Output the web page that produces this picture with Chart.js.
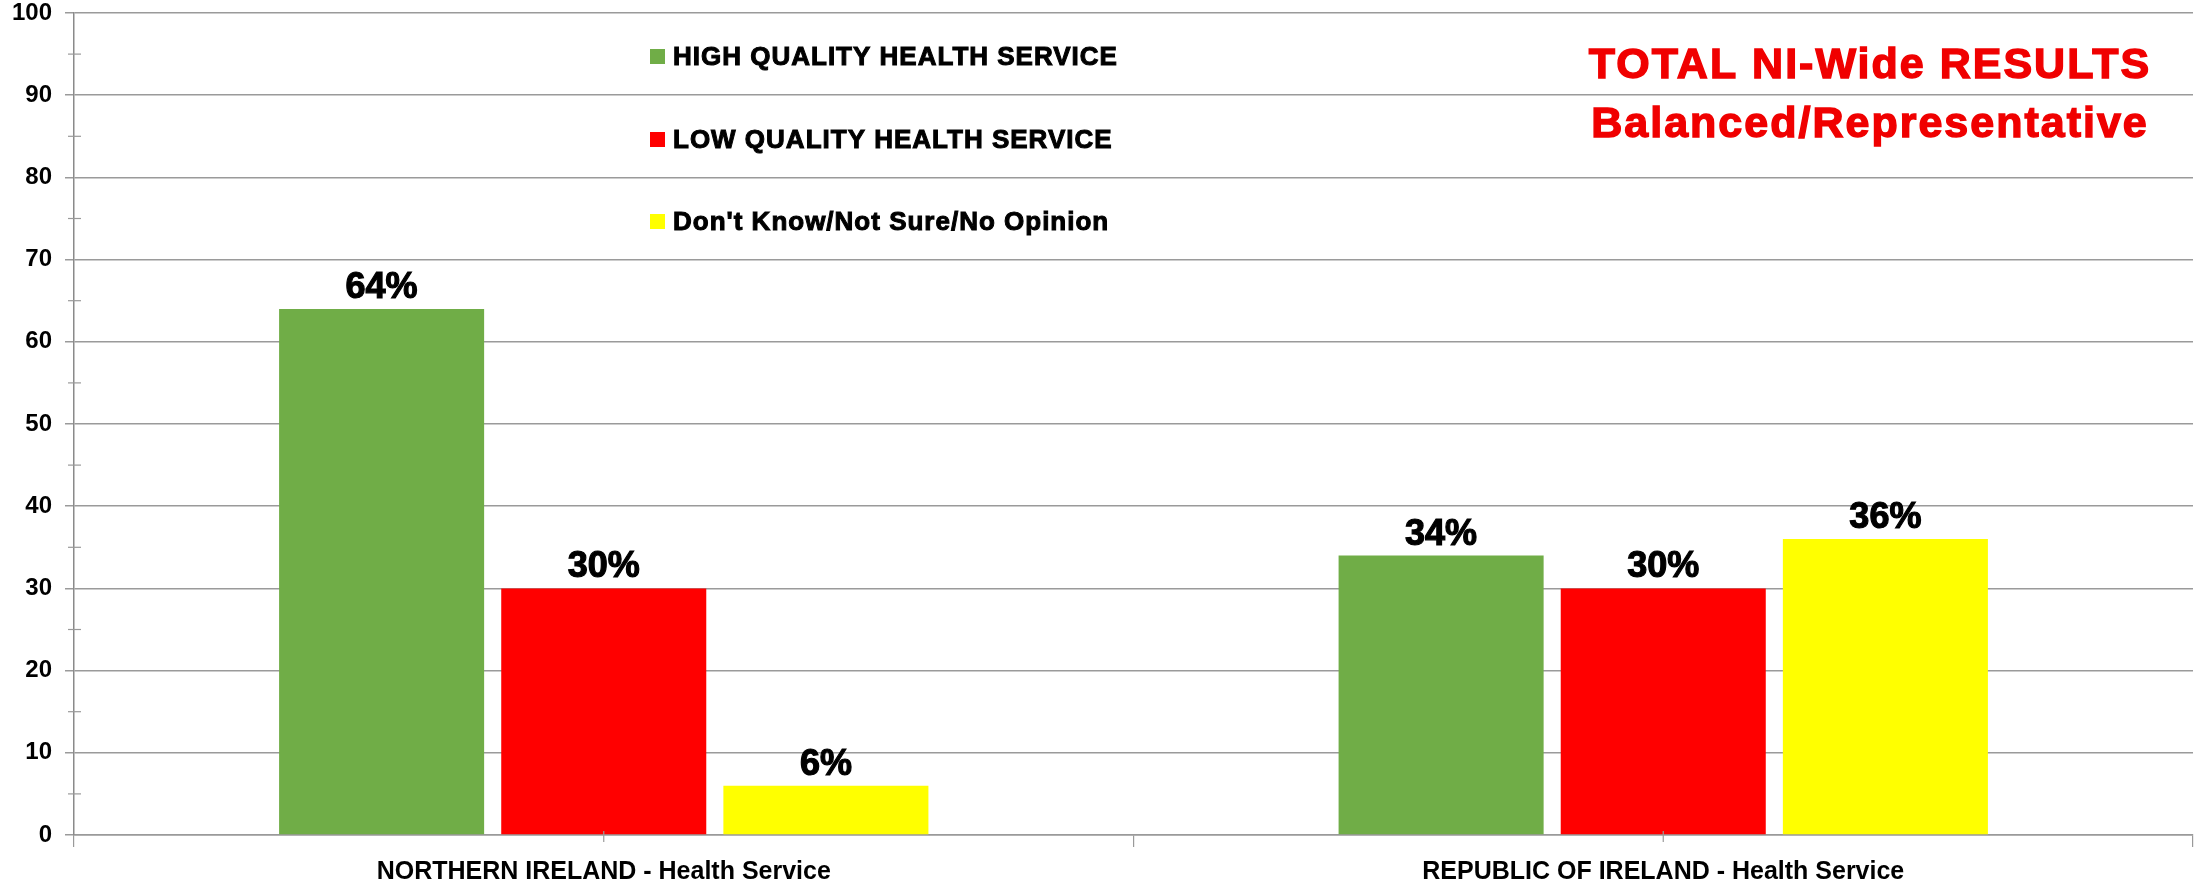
<!DOCTYPE html>
<html>
<head>
<meta charset="utf-8">
<script src="https://cdn.jsdelivr.net/npm/chart.js@4/dist/chart.umd.min.js"></script>
<style>
  html, body { margin: 0; padding: 0; background: #ffffff; }
  #wrap { width: 2197px; height: 882px; position: relative; }
</style>
</head>
<body>
<div id="wrap"><canvas id="c"></canvas></div>
<script>
// ---- data ----
const categories = ['NORTHERN IRELAND - Health Service', 'REPUBLIC OF IRELAND - Health Service'];
const seriesNames = ['HIGH QUALITY HEALTH SERVICE', 'LOW QUALITY HEALTH SERVICE', "Don't Know/Not Sure/No Opinion"];
const highQuality = [64, 34];
const lowQuality = [30, 30];
const dontKnow = [6, 36];
const seriesColors = ['#70AD47', '#FF0000', '#FFFF00'];
const yMin = 0, yMax = 100, yStep = 10;
const titleLines = ['TOTAL NI-Wide RESULTS', 'Balanced/Representative'];

const FONT = "'Liberation Sans', Arial, Helvetica, sans-serif";

const overlay = {
  id: 'overlay',
  afterDatasetsDraw(chart) {
    const ctx = chart.ctx;
    ctx.save();
    ctx.font = 'bold 36px ' + FONT;
    ctx.fillStyle = '#000';
    ctx.strokeStyle = '#000';
    ctx.lineWidth = 1.2;
    ctx.textAlign = 'center';
    ctx.textBaseline = 'alphabetic';
    chart.data.datasets.forEach((ds, i) => {
      const meta = chart.getDatasetMeta(i);
      meta.data.forEach((bar, j) => {
        const t = ds.data[j] + '%';
        ctx.fillText(t, bar.x, bar.y - 11);
        ctx.strokeText(t, bar.x, bar.y - 11);
      });
    });
    ctx.restore();
  },
  afterDraw(chart) {
    const ctx = chart.ctx;
    const y = chart.scales.y, x = chart.scales.x;
    const area = chart.chartArea;
    ctx.save();
    // minor ticks on y axis
    ctx.strokeStyle = '#9a9a9a';
    ctx.lineWidth = 1.2;
    const tk = y.ticks;
    for (let i = 0; i < tk.length - 1; i++) {
      const py = y.getPixelForValue((tk[i].value + tk[i + 1].value) / 2);
      ctx.beginPath();
      ctx.moveTo(area.left - 6, py);
      ctx.lineTo(area.left + 7, py);
      ctx.stroke();
    }
    // small ticks at category centers
    for (let i = 0; i < categories.length; i++) {
      const px = x.getPixelForValue(i);
      ctx.beginPath();
      ctx.moveTo(px, area.bottom - 4);
      ctx.lineTo(px, area.bottom + 7);
      ctx.stroke();
    }
    // legend
    const rows = [57, 140, 222];
    ctx.font = 'bold 26px ' + FONT;
    ctx.textAlign = 'left';
    ctx.textBaseline = 'middle';
    try { ctx.letterSpacing = '1px'; } catch (e) {}
    chart.data.datasets.forEach((ds, i) => {
      const ry = rows[i];
      ctx.fillStyle = ds.backgroundColor;
      ctx.fillRect(650, ry - 8, 15, 15);
      ctx.fillStyle = '#000';
      ctx.strokeStyle = '#000';
      ctx.lineWidth = 1;
      ctx.fillText(ds.label, 673, ry + 1);
      ctx.strokeText(ds.label, 673, ry + 1);
    });
    // title
    ctx.font = 'bold 43px ' + FONT;
    try { ctx.letterSpacing = '2px'; } catch (e) {}
    ctx.textAlign = 'center';
    ctx.fillStyle = '#F00000';
    ctx.strokeStyle = '#F00000';
    ctx.lineWidth = 1.4;
    const ty = [66, 125];
    titleLines.forEach((t, i) => {
      ctx.fillText(t, 1870, ty[i]);
      ctx.strokeText(t, 1870, ty[i]);
    });
    ctx.restore();
  }
};

new Chart(document.getElementById('c'), {
  type: 'bar',
  data: {
    labels: categories,
    datasets: [
      { label: seriesNames[0], data: highQuality, backgroundColor: seriesColors[0] },
      { label: seriesNames[1], data: lowQuality, backgroundColor: seriesColors[1] },
      { label: seriesNames[2], data: dontKnow, backgroundColor: seriesColors[2] }
    ]
  },
  options: {
    responsive: true,
    maintainAspectRatio: false,
    animation: false,
    layout: { padding: { top: 13, right: 4, left: 0, bottom: 0 } },
    datasets: { bar: { categoryPercentage: 0.629, barPercentage: 0.923, borderWidth: 0 } },
    plugins: { legend: { display: false }, title: { display: false }, tooltip: { enabled: false } },
    scales: {
      x: {
        afterFit(s) { s.height = 47; s.paddingLeft = 0; s.paddingRight = 0; },
        grid: { display: true, drawOnChartArea: false, tickLength: 12, color: '#9a9a9a', lineWidth: 1.2, offset: true },
        border: { display: true, color: '#9a9a9a', width: 1.5 },
        ticks: { color: '#000', font: { family: FONT, weight: 'bold', size: 25 }, padding: 10, maxRotation: 0 }
      },
      y: {
        min: yMin, max: yMax,
        afterFit(s) { s.width = 74; s.paddingTop = 0; s.paddingBottom = 0; },
        grid: { color: '#9a9a9a', lineWidth: 1.5, tickLength: 9 },
        border: { display: true, color: '#8a8a8a', width: 1.5 },
        ticks: { stepSize: yStep, color: '#000', font: { family: FONT, weight: 'bold', size: 24 }, padding: 13 }
      }
    }
  },
  plugins: [overlay]
});
</script>
</body>
</html>
